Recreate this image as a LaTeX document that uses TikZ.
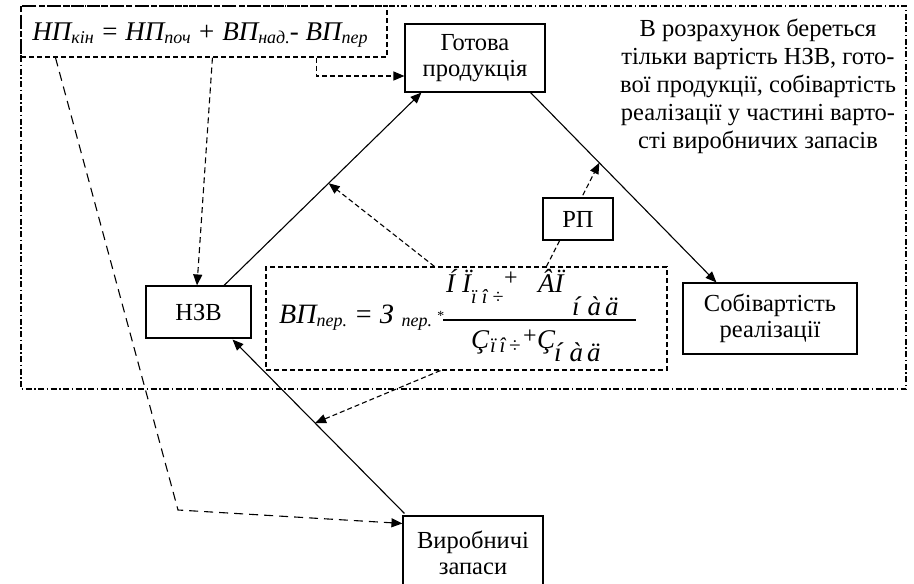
\documentclass[tikz,border=0pt]{standalone}
\usepackage{fontspec}
\setmainfont{Liberation Serif}
\usetikzlibrary{arrows.meta,calc,backgrounds}

% lowered index in the formulas
\newcommand\lsub[1]{\raisebox{-3pt}{\fontsize{18}{18}\selectfont #1}}

\tikzset{
  box/.style={draw, line width=1.1pt, fill=white, align=center, inner sep=0pt,
    font=\fontsize{24.5}{26.5}\selectfont},
  fbox/.style={draw, line width=1.1pt, dash pattern=on 5pt off 3pt, inner sep=0pt},
  tip/.style={-{Triangle[length=11pt,width=9pt]}},
  conn/.style={line width=1.1pt, tip},
  dconn/.style={line width=1.1pt, tip, dash pattern=on 5pt off 3pt},
  mdconn/.style={line width=1.1pt, tip, dash pattern=on 6pt off 4pt},
  ldconn/.style={line width=1.1pt, tip, dash pattern=on 9pt off 6pt},
  frame/.style={line width=1.1pt, dash pattern=on 6pt off 2.5pt on 1.5pt off 2.5pt},
  piece/.style={anchor=base west, inner sep=0pt, font=\itshape\fontsize{27}{27}\selectfont},
  spiece/.style={anchor=base west, inner sep=0pt, font=\itshape\fontsize{21}{21}\selectfont},
  bigsub/.style={anchor=base west, inner sep=0pt, font=\itshape\fontsize{27}{27}\selectfont},
  plus/.style={anchor=base west, inner sep=0pt, font=\fontsize{24}{24}\selectfont},
}

\begin{document}
\begin{tikzpicture}[x=1pt,y=-1pt]
\useasboundingbox (0,0) rectangle (914,584);

% outer dash-dot frame
\draw[frame] (21,6) rectangle (906,389);

% boxes
\node[box, minimum width=140, minimum height=68] (got) at (475,58) {Готова\\продукція};
\node[box, minimum width=105, minimum height=52] (nzv) at (198.5,312) {НЗВ};
\node[box, minimum width=174, minimum height=71] (sob) at (770,318.5) {Собівартість\\реалізації};
\node[box, minimum width=70, minimum height=42] (rp) at (578,219) {РП};
\node[box, minimum width=140, minimum height=74] (vz) at (473,553) {Виробничі\\запаси};

% note
\node[align=center, inner sep=0pt, font=\fontsize{24.5}{28}\selectfont] (note) at (758,86)
  {В розрахунок береться\\тільки вартість НЗВ, гото-\\вої продукції, собівартість\\реалізації у частині варто-\\сті виробничих запасів};

% formula boxes
\node[fbox, minimum width=366, minimum height=51] (f1) at (204,31.5) {};
\node[anchor=base, inner sep=0pt, font=\itshape\fontsize{27}{30}\selectfont] (f1t) at (200,40)
  {НП\lsub{кін} = НП\lsub{поч} + ВП\lsub{над.}- ВП\lsub{пер}};
\node[fbox, fill=white, minimum width=401, minimum height=103] (f2) at (466.5,318.5) {};

% formula for ВП_пер.
\node[piece, font=\itshape\fontsize{28}{28}\selectfont] (fl) at (279,323)
  {ВП\lsub{пер.} = З\;\lsub{пер.}\,\raisebox{3pt}{\fontsize{14}{14}\selectfont *}};
\draw[line width=1.1pt] (443,320) -- (636,320);
% numerator
\node[piece] (n1) at (446,292) {Í\hspace{7pt}Ï};
\node[spiece, font=\itshape\fontsize{20}{20}\selectfont] (n2) at (471,303) {ï î ÷};
\node[plus] (n3) at (504,285) {+};
\node[piece] (n4) at (538,292) {ÂÏ};
\node[bigsub] (n5) at (572,315) {í\hspace{8pt}à\hspace{4pt}ä};
% denominator
\node[piece] (d1) at (471,348) {Ç};
\node[spiece] (d2) at (490,352) {ï\,î\,÷};
\node[plus] (d3) at (523,343) {+};
\node[piece] (d4) at (537,348) {Ç};
\node[bigsub] (d5) at (554,361) {í\hspace{8pt}à\hspace{4pt}ä};

% end points on the solid links
\coordinate (nzvOut) at ($(nzv.north)+(25.5,0)$);
\coordinate (gotIn) at ($(got.south west)+(17,0)$);
\coordinate (gotOut) at ($(got.south east)+(-15,0)$);
\coordinate (sobIn) at ($(sob.north west)+(34,0)$);
\coordinate (vzOut) at ($(vz.north west)+(2,-2)$);
\coordinate (nzvIn) at ($(nzv.south east)+(-19,1)$);
\coordinate (bend) at (178,510);

% solid flow
\draw[conn] (nzvOut) -- (gotIn);
\draw[conn] (gotOut) -- (sobIn);
\draw[conn] (vzOut) -- (nzvIn);

% links from the first formula
\draw[ldconn] ($(f1.south west)+(35,0)$) -- (bend) -- ($(vz.north west)+(0,8)$);
\draw[mdconn] ($(f1.south west)+(192,0)$) -- ($(nzv.north)+(-1.5,0)$);
\draw[dconn] ($(f1.south west)+(296,0)$) |- ($(got.west)+(0,18)$);

% links from the second formula
\draw[dconn] ($(f2.north west)+(169,0)$) -- ($(nzvOut)!0.53!(gotIn)$);
\begin{pgfonlayer}{background}
\draw[dconn] ($(f2.north west)+(281,0)$) -- ($(gotOut)!0.37!(sobIn)$);
\end{pgfonlayer}
\draw[dconn] ($(f2.south west)+(175,0)$) -- ($(vzOut)!0.52!(nzvIn)$);
\end{tikzpicture}
\end{document}
